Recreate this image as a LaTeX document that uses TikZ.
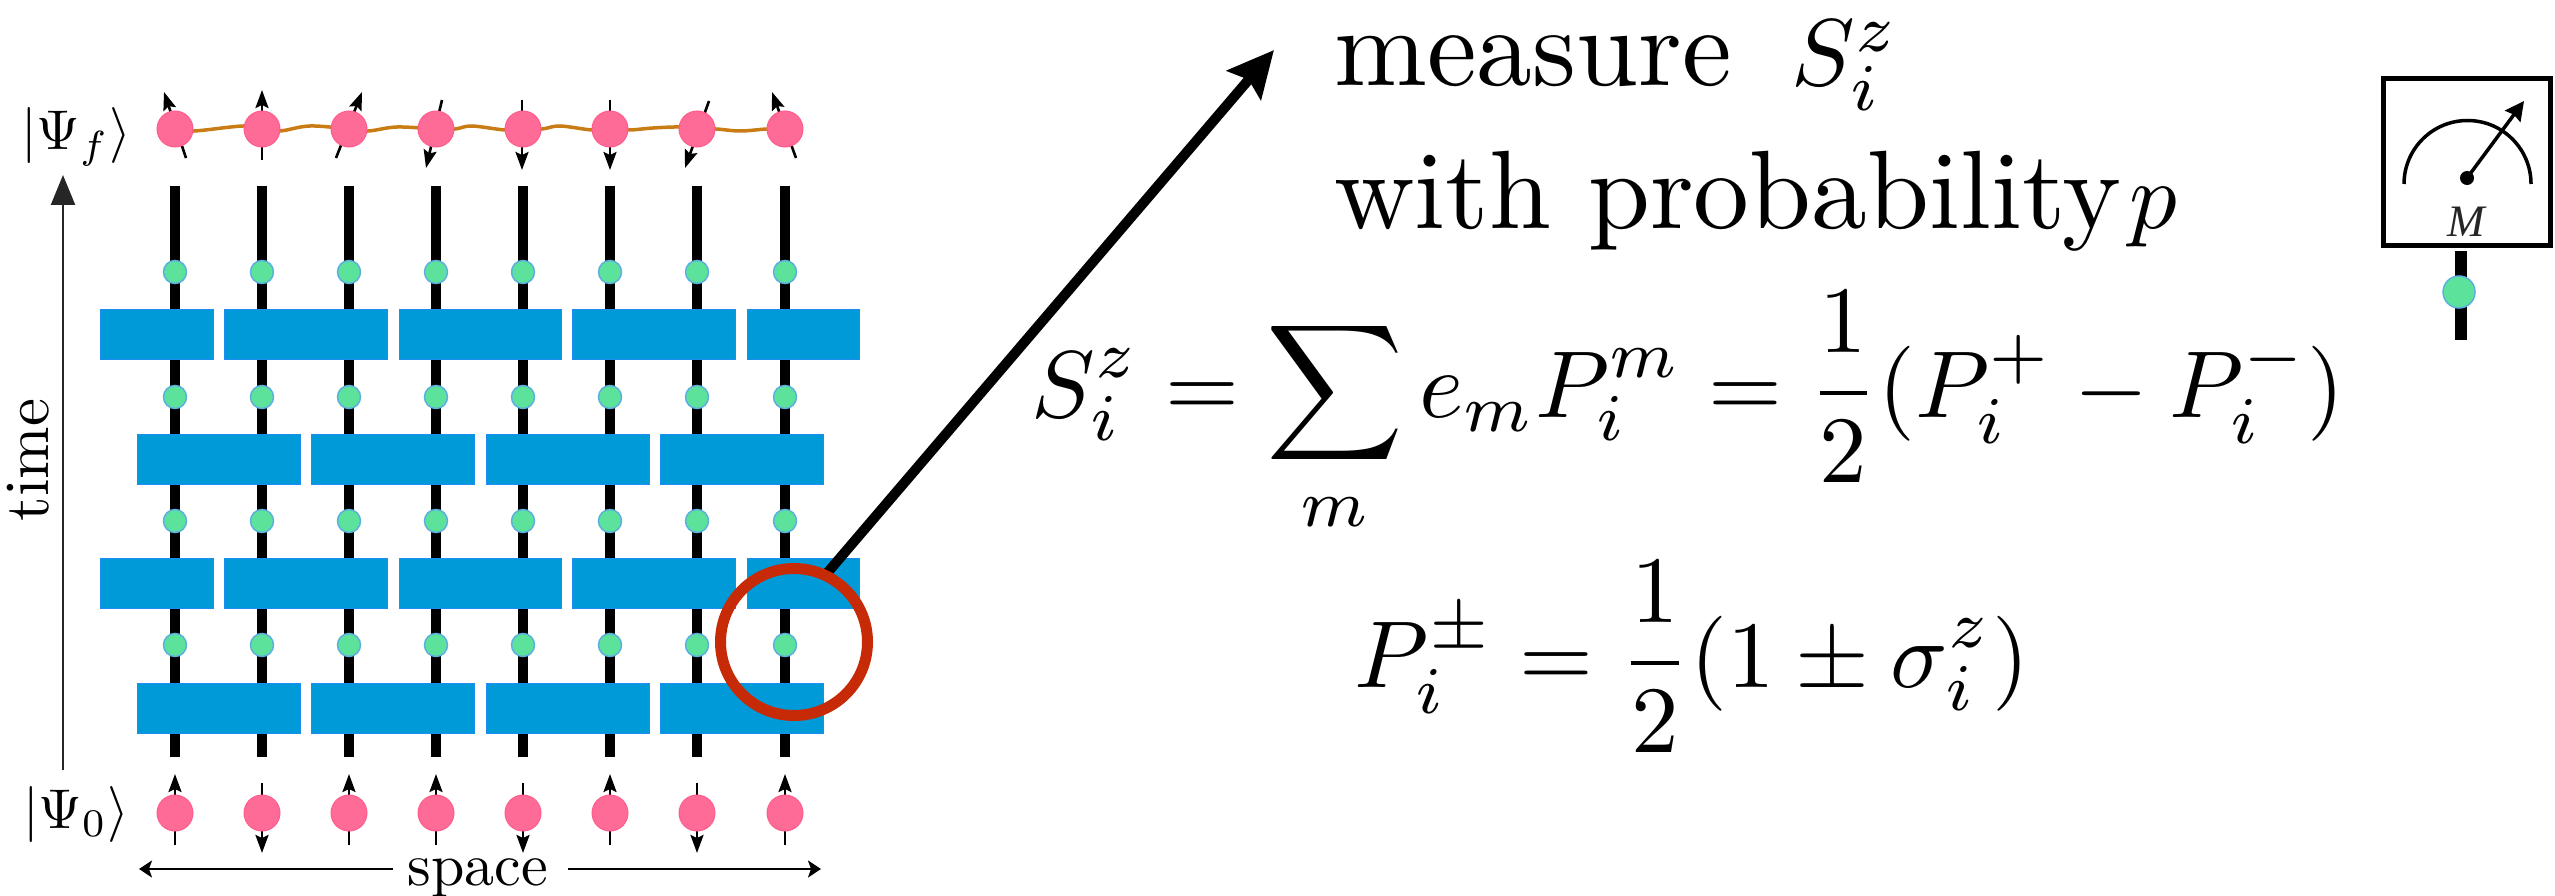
\documentclass[tikz,border=0pt]{standalone}
\usepackage[no-math]{fontspec}
\usetikzlibrary{arrows.meta}
\newfontfamily\metermfont{Liberation Serif}
\definecolor{gatecol}{HTML}{009AD8}
\definecolor{gateedge}{HTML}{1E8CF0}
\definecolor{spincol}{HTML}{FF6B97}
\definecolor{spinedge}{HTML}{FF5C8C}
\definecolor{dotcol}{HTML}{5CE29A}
\definecolor{dotedge}{HTML}{5CB0E0}
\definecolor{wavecol}{HTML}{C97C14}
\definecolor{ringcol}{HTML}{C62A06}
\tikzset{
  wire/.style={line width=9.5pt,black},
  gate/.style={rectangle,fill=gatecol,draw=gateedge,line width=1pt,inner sep=0pt,minimum height=50pt},
  spin/.style={circle,fill=spincol,draw=spinedge,line width=1pt,inner sep=0pt,minimum size=36pt},
  meas/.style={circle,fill=dotcol,draw=dotedge,line width=1.5pt,inner sep=0pt,minimum size=23pt},
  spinarrow/.style={line width=2.6pt,-{Stealth[length=18pt,width=13pt,inset=3pt]}},
  lab/.style={inner sep=0pt,anchor=base west},
}
\begin{document}
\begin{tikzpicture}[x=1pt,y=-1pt]
\useasboundingbox (0,0) rectangle (2555,896);
% wave
\draw[wavecol,line width=3.5pt] plot[smooth,tension=0.6] coordinates {(175,129)(194,131)(243,126)(262,129)(280,131)(310,126)(349,129)(368,131)(397,127)(436,129)(455,129)(472,126)(505,130)(523,129)(542,129)(560,126)(592,130)(610,129)(629,130)(653,128)(679,127)(697,129)(716,129)(740,131)(767,129)(785,129)};
% columns
\foreach \i/\x in {1/175,2/262,3/349,4/436,5/523,6/610,7/697,8/785}{
  \coordinate (wt\i) at (\x,186);
  \coordinate (wb\i) at (\x,757);
  \draw[wire] (wt\i) -- (wb\i);
  \node[meas] (ma\i) at (\x,272) {};
  \node[meas] (mb\i) at (\x,397) {};
  \node[meas] (mc\i) at (\x,521) {};
  \node[meas] (md\i) at (\x,645) {};
}
% gates
\foreach \r/\y in {a/334,c/583}{
  \foreach \j/\l/\w in {1/100/113,2/224/163,3/399/162,4/572/163,5/747/112}{
    \node[gate,minimum width=\w pt] (g\r\j) at ({\l+\w/2},\y) {};
  }
}
\foreach \r/\y in {b/459,d/708}{
  \foreach \j/\l in {1/137,2/311,3/486,4/660}{
    \node[gate,minimum width=163pt] (g\r\j) at ({\l+81.5},\y) {};
  }
}
% final spin arrows
\foreach \i/\a/\b/\c/\d in {1/186/158/164/92,2/262/160/262/90,3/336/158/362/92,4/442/100/426/168,5/522/100/522/170,6/610/100/610/170,7/709/101/685/168,8/796/158/772/92}{
  \coordinate (ft\i) at (\a,\b);
  \coordinate (fh\i) at (\c,\d);
  \draw[spinarrow] (ft\i) -- (fh\i);
}
% initial spin arrows
\foreach \i/\x in {1/175,3/349,4/436,6/610,8/785}{
  \coordinate (it\i) at (\x,845);
  \coordinate (ih\i) at (\x,774);
  \draw[spinarrow] (it\i) -- (ih\i);
}
\foreach \i/\x in {2/262,5/523,7/697}{
  \coordinate (it\i) at (\x,783);
  \coordinate (ih\i) at (\x,853);
  \draw[spinarrow] (it\i) -- (ih\i);
}
% spins
\foreach \i/\x in {1/175,2/262,3/349,4/436,5/523,6/610,7/697,8/785}{
  \node[spin] (sf\i) at (\x,129) {};
  \node[spin] (si\i) at (\x,813) {};
}
% big arrow and ring
\coordinate (bigstart) at (828,572);
\coordinate (bigtip) at (1274,50);
\draw[line width=10pt,-{Stealth[length=46pt,width=44pt,inset=7pt]}] (bigstart) -- (bigtip);
\node[circle,draw=ringcol,line width=11pt,inner sep=0pt,minimum size=147pt] (ring) at (794,642) {};
% axes
\coordinate (tb) at (63,770);
\coordinate (tt) at (63,175);
\draw[line width=2.4pt,black!85,-{Stealth[length=30pt,width=24pt,inset=0pt]}] (tb) -- (tt);
\node[inner sep=0pt,anchor=base,rotate=90,scale=6.3] (timelab) at (48,460) {time};
\node[inner sep=0pt,anchor=base,scale=6] (spacelab) at (478,885) {space};
\coordinate (sl) at (139,869);
\coordinate (sl2) at (393,869);
\coordinate (sr) at (821,869);
\coordinate (sr2) at (568,869);
\draw[line width=2.2pt,-{Stealth[length=13pt,width=17pt,inset=3pt]}] (sl2) -- (sl);
\draw[line width=2.2pt,-{Stealth[length=13pt,width=17pt,inset=3pt]}] (sr2) -- (sr);
\node[lab,scale=5.6] (psif) at (20,150) {$|\Psi_f\rangle$};
\node[lab,scale=5.6] (psi0) at (22,828) {$|\Psi_0\rangle$};
% texts
\node[lab,scale=11.15] (t1) at (1332,86) {measure};
\node[lab,scale=9.5] (t1m) at (1790,86) {$S_i^z$};
\node[lab,scale=11.15] (t2) at (1332,228) {with probability};
\node[lab,scale=9.5] (t2m) at (2128,228) {$p$};
\node[lab,scale=9.5] (eq1) at (1030,417) {$\displaystyle S_i^z=\sum_m e_mP_i^m=\frac{1}{2}(P_i^+-P_i^-)$};
\node[lab,scale=9.5] (eq2) at (1353,687) {$\displaystyle P_i^\pm=\frac{1}{2}(1\pm\sigma_i^z)$};
% meter
\coordinate (mwt) at (2461,251);
\coordinate (mwb) at (2461,340);
\draw[line width=12pt] (mwt) -- (mwb);
\node[circle,fill=dotcol,draw=dotedge,line width=1.5pt,inner sep=0pt,minimum size=32pt] (mdot) at (2459,292) {};
\node[rectangle,draw=black,line width=5pt,inner sep=0pt,minimum width=167pt,minimum height=167pt] (mbox) at (2467,162) {};
\coordinate (arcs) at (2404,184);
\draw[line width=3.5pt] (arcs) arc[start angle=180,end angle=0,radius=63.5pt];
\node[circle,fill=black,inner sep=0pt,minimum size=14pt] (mpivot) at (2467,178) {};
\coordinate (mtip) at (2524,101);
\draw[line width=3.5pt,-{Stealth[length=19pt,width=19pt,inset=2pt]}] (mpivot.center) -- (mtip);
\node[inner sep=0pt,anchor=base,font=\metermfont\itshape\fontsize{45}{50}\selectfont,text=black!85] (mlab) at (2466,236) {M};
\end{tikzpicture}
\end{document}
